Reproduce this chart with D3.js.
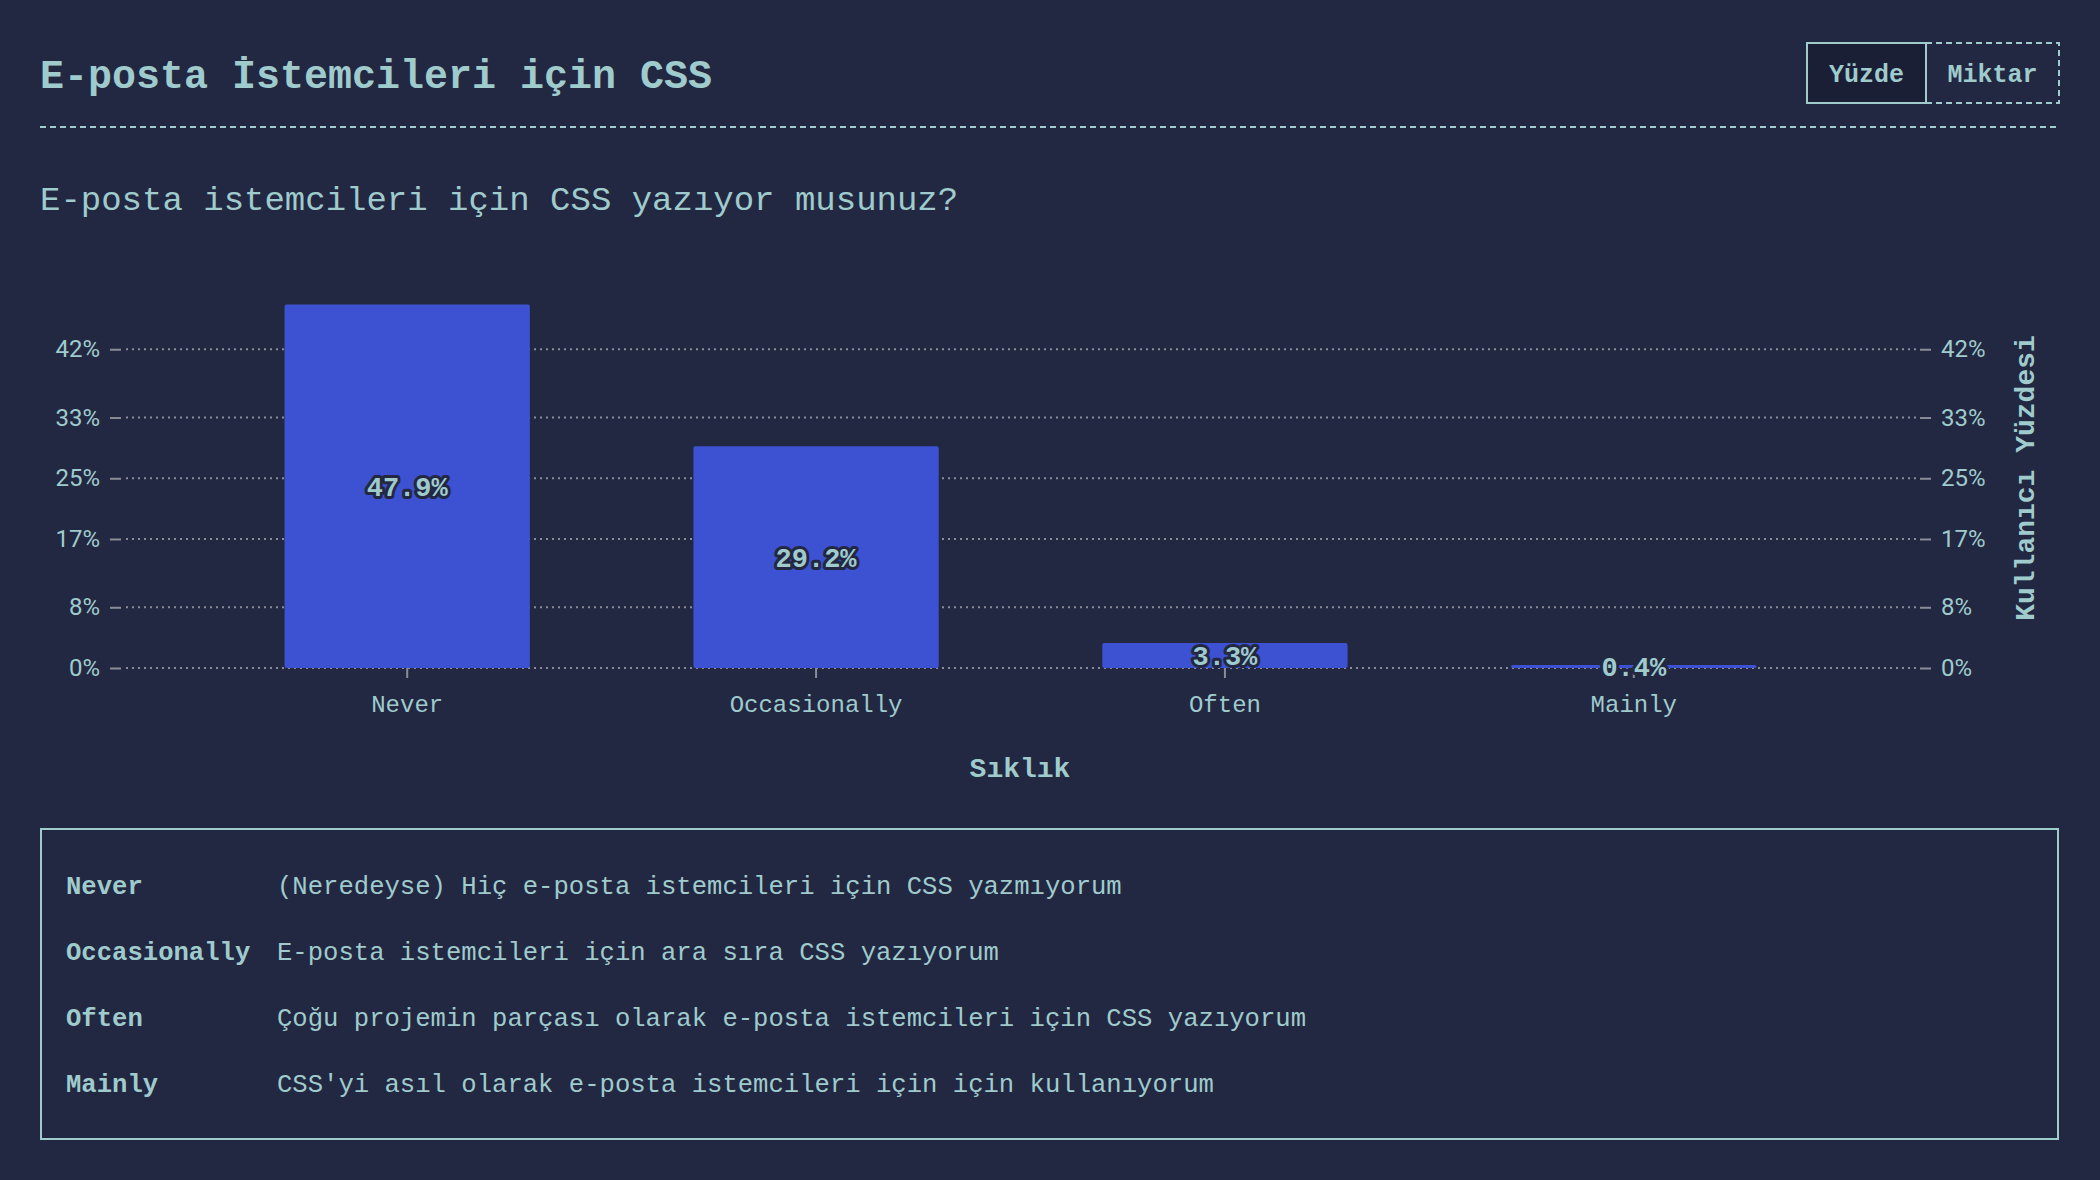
<!DOCTYPE html>
<html>
<head>
<meta charset="utf-8">
<script src="https://cdn.jsdelivr.net/npm/d3@7"></script>
<style>
  html, body { margin: 0; padding: 0; background: #232842; }
  svg { display: block; }
</style>
</head>
<body>
<svg id="chart" width="2100" height="1180"></svg>
<script>
const title = "E-posta İstemcileri için CSS";
const subtitle = "E-posta istemcileri için CSS yazıyor musunuz?";
const categories = ["Never", "Occasionally", "Often", "Mainly"];
const values = [47.9, 29.2, 3.3, 0.4];
const yTicks = [0, 8, 17, 25, 33, 42];
const descriptions = [
  "(Neredeyse) Hiç e-posta istemcileri için CSS yazmıyorum",
  "E-posta istemcileri için ara sıra CSS yazıyorum",
  "Çoğu projemin parçası olarak e-posta istemcileri için CSS yazıyorum",
  "CSS'yi asıl olarak e-posta istemcileri için için kullanıyorum"
];
const buttons = ["Yüzde", "Miktar"];
const xTitle = "Sıklık";
const yTitle = "Kullanıcı Yüzdesi";

const BG = "#232842", TEXT = "#9fcbcd", BAR = "#3c52d2", GRID = "#8a8d98";
const MONO = "'Liberation Mono', 'DejaVu Sans Mono', monospace";
const SANS = "Roboto, 'Noto Sans', sans-serif";

const svg = d3.select("#chart");
svg.append("rect").attr("width", 2100).attr("height", 1180).attr("fill", BG);

// Header
svg.append("text").attr("x", 40).attr("y", 88).text(title)
  .attr("fill", TEXT).attr("font-family", MONO).attr("font-weight", "bold").attr("font-size", 40);
svg.append("line").attr("x1", 40).attr("x2", 2059).attr("y1", 127).attr("y2", 127)
  .attr("stroke", TEXT).attr("stroke-width", 2).attr("stroke-dasharray", "6 4");

// Buttons
const btnX = [1807, 1926, 2059];
buttons.forEach((b, i) => {
  svg.append("rect").attr("x", btnX[i]).attr("y", 43).attr("width", btnX[i+1] - btnX[i]).attr("height", 60)
    .attr("fill", i === 0 ? "#1b1f36" : "none").attr("stroke", TEXT).attr("stroke-width", 2)
    .attr("stroke-dasharray", i === 0 ? null : "6 4");
  svg.append("text").attr("x", (btnX[i] + btnX[i+1]) / 2).attr("y", 82).attr("text-anchor", "middle")
    .text(b).attr("fill", TEXT).attr("font-family", MONO).attr("font-weight", "bold").attr("font-size", 25);
});

svg.append("text").attr("x", 40).attr("y", 210).text(subtitle)
  .attr("fill", TEXT).attr("font-family", MONO).attr("font-size", 34);

// Scales
const x = d3.scaleBand().domain(categories).range([121, 1920]).paddingInner(0.4).paddingOuter(0.4);
const y = d3.scaleLinear().domain([0, 50]).range([668, 288.5]);

// Grid
svg.append("g").selectAll("line").data(yTicks).join("line")
  .attr("x1", 126).attr("x2", 1917).attr("y1", d => y(d)).attr("y2", d => y(d))
  .attr("stroke", GRID).attr("stroke-width", 2).attr("stroke-dasharray", "2 4");

// Axes
function styleAxis(g, font, size) {
  g.select(".domain").remove();
  g.selectAll(".tick line").attr("stroke", GRID).attr("stroke-width", 2);
  g.selectAll(".tick text").attr("fill", TEXT).attr("font-family", font).attr("font-size", size);
}
svg.append("g").attr("transform", "translate(121,0)")
  .call(d3.axisLeft(y).tickValues(yTicks).tickFormat(d => d + "%").tickSize(11).tickPadding(10))
  .call(g => styleAxis(g, SANS, 24));
svg.append("g").attr("transform", "translate(1920,0)")
  .call(d3.axisRight(y).tickValues(yTicks).tickFormat(d => d + "%").tickSize(11).tickPadding(10))
  .call(g => styleAxis(g, SANS, 24));

// Bars
svg.append("g").selectAll("rect").data(categories).join("rect")
  .attr("x", d => x(d)).attr("width", x.bandwidth())
  .attr("y", (d, i) => y(values[i])).attr("height", (d, i) => y(0) - y(values[i]))
  .attr("rx", 2).attr("fill", BAR);

svg.append("g").attr("transform", "translate(0,668)")
  .call(d3.axisBottom(x).tickSize(10).tickPadding(17))
  .call(g => styleAxis(g, MONO, 24));

// Value labels
svg.append("g").selectAll("text").data(categories).join("text")
  .attr("x", d => x(d) + x.bandwidth() / 2)
  .attr("y", (d, i) => (y(values[i]) + y(0)) / 2)
  .attr("dy", "0.35em").attr("text-anchor", "middle")
  .text((d, i) => values[i].toFixed(1) + "%")
  .attr("fill", TEXT).attr("font-family", MONO).attr("font-weight", "bold").attr("font-size", 27)
  .attr("stroke", BG).attr("stroke-width", 6).attr("stroke-linejoin", "round").attr("paint-order", "stroke");

// Axis titles
svg.append("text").attr("x", 1020).attr("y", 777).attr("text-anchor", "middle").text(xTitle)
  .attr("fill", TEXT).attr("font-family", MONO).attr("font-weight", "bold").attr("font-size", 28);
svg.append("text").attr("transform", "translate(2024,478) rotate(-90)").attr("dy", "0.35em")
  .attr("text-anchor", "middle").text(yTitle)
  .attr("fill", TEXT).attr("font-family", MONO).attr("font-weight", "bold").attr("font-size", 28);

// Legend
svg.append("rect").attr("x", 41).attr("y", 829).attr("width", 2017).attr("height", 310)
  .attr("fill", "none").attr("stroke", TEXT).attr("stroke-width", 2);
const rows = svg.append("g").selectAll("g").data(categories).join("g")
  .attr("transform", (d, i) => `translate(0,${894 + i * 66})`);
rows.append("text").attr("x", 66).text(d => d)
  .attr("fill", TEXT).attr("font-family", MONO).attr("font-weight", "bold").attr("font-size", 25.6);
rows.append("text").attr("x", 277).text((d, i) => descriptions[i])
  .attr("fill", TEXT).attr("font-family", MONO).attr("font-size", 25.6);
</script>
</body>
</html>
